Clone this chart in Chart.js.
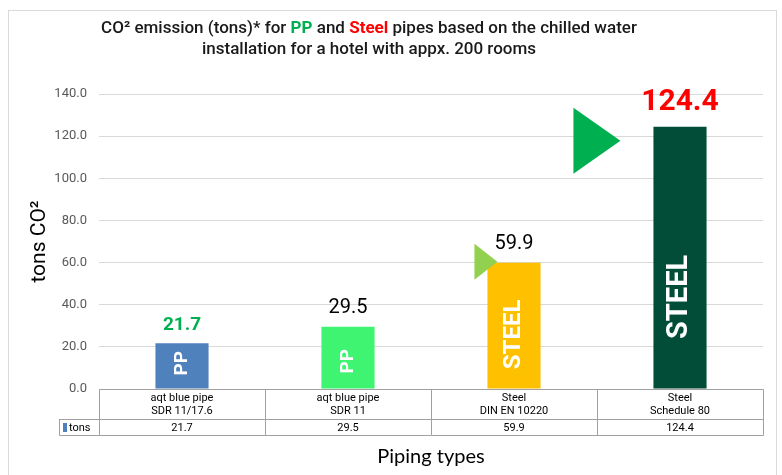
<!DOCTYPE html>
<html>
<head>
<meta charset="utf-8">
<script src="https://cdn.jsdelivr.net/npm/chart.js@4.4.1/dist/chart.umd.min.js"></script>
<style>
  html, body { margin: 0; padding: 0; background: #fff; }
</style>
</head>
<body>
<canvas id="myChart" width="782" height="475"></canvas>
<script>
// data
const categories = [
    ['aqt blue pipe', 'SDR 11/17.6'],
    ['aqt blue pipe', 'SDR 11'],
    ['Steel', 'DIN EN 10220'],
    ['Steel', 'Schedule 80']
];
const seriesName = 'tons';
const tons = [21.7, 29.5, 59.9, 124.4];
const barTags = ['PP', 'PP', 'STEEL', 'STEEL'];
const yMin = 0, yMax = 140, yStep = 20;

// styles
const barColors = ['#4f81bd', '#3ef471', '#ffc000', '#024d38'];
const valueStyle = [
    { color: '#00b050', size: 19, weight: 'bold' },
    { color: '#000000', size: 20, weight: 'normal' },
    { color: '#000000', size: 20, weight: 'normal' },
    { color: '#ff0000', size: 30, weight: 'bold' }
];
const tagStyle = [
    { size: 19, at: 0.44 },
    { size: 19, at: 0.56 },
    { size: 24, at: 0.57 },
    { size: 29, at: 0.65 }
];
const FONT = 'Roboto';

const titleLines = [
    [['CO² emission (tons)* for ', '#1a1a1a', '500'], ['PP', '#00b050', 'bold'], [' and ', '#1a1a1a', '500'],
     ['Steel', '#ff0000', 'bold'], [' pipes based on the chilled water', '#1a1a1a', '500']],
    [['installation for a hotel with appx. 200 rooms', '#1a1a1a', '500']]
];

const extras = {
    id: 'extras',
    beforeDraw(chart) {
        const c = chart.ctx;
        c.save();
        c.strokeStyle = '#d9d9d9';
        c.lineWidth = 1;
        c.strokeRect(8.5, 10.5, 768, 480);
        c.restore();
    },
    afterDraw(chart) {
        const c = chart.ctx;
        const a = chart.chartArea;
        const xs = chart.scales.x;
        const bars = chart.getDatasetMeta(0).data;
        c.save();

        // title, several colours on one line
        titleLines.forEach((line, li) => {
            let w = 0;
            line.forEach(s => { c.font = s[2] + ' 17px ' + FONT; w += c.measureText(s[0]).width; });
            let x = 369 - w / 2;
            const y = 29 + li * 21;
            c.textBaseline = 'middle';
            c.textAlign = 'left';
            line.forEach(s => {
                c.font = s[2] + ' 17px ' + FONT;
                c.fillStyle = s[1];
                c.fillText(s[0], x, y);
                x += c.measureText(s[0]).width;
            });
        });

        // data table
        const top = a.bottom, mid = a.bottom + 30, bot = a.bottom + 46;
        c.strokeStyle = '#a0a0a0';
        c.lineWidth = 1;
        c.beginPath();
        c.rect(Math.round(a.left) + 0.5, top + 0.5, Math.round(a.right - a.left), bot - top);
        c.moveTo(a.left - 40, mid + 0.5); c.lineTo(a.right, mid + 0.5);
        c.rect(Math.round(a.left) - 39.5, mid + 0.5, 40, bot - mid);
        for (let i = 0; i < tons.length - 1; i++) {
            const xx = Math.round((xs.getPixelForValue(i) + xs.getPixelForValue(i + 1)) / 2) + 0.5;
            c.moveTo(xx, top); c.lineTo(xx, bot);
        }
        c.stroke();

        c.font = '11px ' + FONT;
        c.fillStyle = '#000';
        c.textAlign = 'center';
        c.textBaseline = 'middle';
        tons.forEach((v, i) => c.fillText(v.toFixed(1), xs.getPixelForValue(i), (mid + bot) / 2 + 1));
        c.fillStyle = barColors[0];
        c.fillRect(a.left - 36, mid + 4, 4, 9);
        c.fillStyle = '#000';
        c.textAlign = 'left';
        c.fillText(seriesName, a.left - 30, (mid + bot) / 2 + 1);

        // value labels above the bars
        bars.forEach((b, i) => {
            const s = valueStyle[i];
            c.font = s.weight + ' ' + s.size + 'px ' + FONT;
            c.fillStyle = s.color;
            c.textAlign = 'center';
            c.textBaseline = 'middle';
            c.fillText(tons[i].toFixed(1), b.x, b.y - s.size / 2 - 9);
        });

        // rotated tags inside the bars
        bars.forEach((b, i) => {
            const s = tagStyle[i];
            c.save();
            c.translate(b.x, b.y + (b.base - b.y) * s.at);
            c.rotate(-Math.PI / 2);
            c.font = 'bold ' + s.size + 'px ' + FONT;
            c.fillStyle = '#fff';
            c.textAlign = 'center';
            c.textBaseline = 'middle';
            c.fillText(barTags[i], 0, 0);
            c.restore();
        });

        // arrow marks
        const tri = (tipX, tipY, len, half, col) => {
            c.fillStyle = col;
            c.beginPath();
            c.moveTo(tipX, tipY);
            c.lineTo(tipX - len, tipY - half);
            c.lineTo(tipX - len, tipY + half);
            c.closePath();
            c.fill();
        };
        const b3 = bars[2], b4 = bars[3];
        tri(b3.x - b3.width / 2 + 10, b3.y - 1, 23, 18, '#92d050');
        tri(b4.x - b4.width / 2 - 33, b4.y + 14, 47, 33, '#00b050');

        c.restore();
    }
};

new Chart(document.getElementById('myChart'), {
    type: 'bar',
    data: {
        labels: categories,
        datasets: [{
            label: seriesName,
            data: tons,
            backgroundColor: barColors,
            borderWidth: 0,
            categoryPercentage: 1,
            barPercentage: 0.32
        }]
    },
    options: {
        responsive: false,
        animation: false,
        layout: { padding: { top: 94, right: 19, bottom: 0, left: 0 } },
        plugins: {
            legend: { display: false },
            tooltip: { enabled: false }
        },
        scales: {
            x: {
                grid: { display: false, drawTicks: false },
                border: { display: false },
                ticks: { color: '#000', font: { family: FONT, size: 11, lineHeight: 1.15 }, padding: 3, maxRotation: 0 },
                title: { display: true, text: 'Piping types', color: '#000', font: { family: 'Lato', size: 20 }, padding: { top: 0, bottom: 6 } },
                afterFit(scale) { scale.height = 86; }
            },
            y: {
                min: yMin,
                max: yMax,
                ticks: { stepSize: yStep, color: '#595959', font: { family: FONT, size: 13 }, padding: 12, callback: v => v.toFixed(1) },
                grid: { color: '#d9d9d9', drawTicks: false },
                border: { display: false },
                title: { display: true, text: 'tons CO²', color: '#000', font: { family: FONT, size: 21 }, padding: { top: 27, bottom: 0 } },
                afterFit(scale) { scale.width = 99; }
            }
        }
    },
    plugins: [extras]
});
</script>
</body>
</html>
